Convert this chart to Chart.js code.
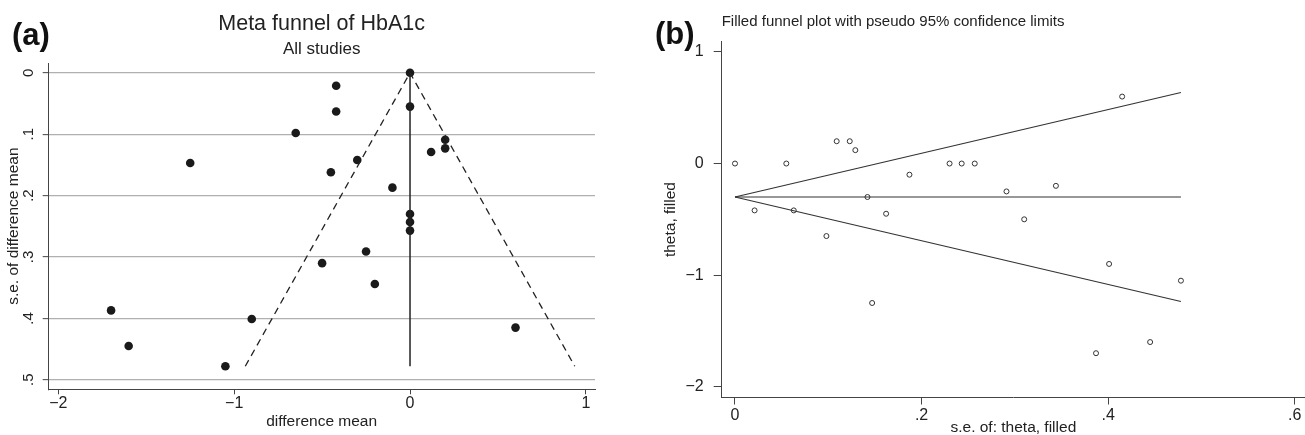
<!DOCTYPE html>
<html>
<head>
<meta charset="utf-8">
<title>Funnel plots - HbA1c</title>
<script src="https://cdn.jsdelivr.net/npm/chart.js@4.4.1/dist/chart.umd.min.js"></script>
<style>
  html, body { margin: 0; padding: 0; background: #fff; }
  #wrap { position: relative; width: 1305px; height: 435px; overflow: hidden; }
  .panel { position: absolute; top: 0; height: 435px; }
  #panelA { left: 0; width: 650px; }
  #panelB { left: 650px; width: 655px; }
</style>
</head>
<body>
<div id="wrap">
  <div class="panel" id="panelA"><canvas id="chartA"></canvas></div>
  <div class="panel" id="panelB"><canvas id="chartB"></canvas></div>
</div>
<script>
// one entry per study, same order in both panels
const diffMean = [0, 0, -0.42, -0.42, -0.65, 0.20, 0.20, 0.12, -1.25, -0.30, -0.45, -0.10,
                  0, 0, 0, -0.25, -0.50, -0.20, -1.70, -0.90, -1.60, -1.05, 0.60];
const seDiff   = [0, 0.055, 0.021, 0.063, 0.098, 0.109, 0.123, 0.129, 0.147, 0.142, 0.162, 0.187,
                  0.230, 0.243, 0.257, 0.291, 0.310, 0.344, 0.387, 0.401, 0.445, 0.478, 0.415];

const pooledA = 0;      // centre of the funnel in (a)
const pooledB = -0.30;  // filled (trim-and-fill) estimate in (b)
const zCrit = 1.96;     // pseudo 95% limits

const xTicksA = [-2, -1, 0, 1];
const yTicksA = [0, 0.1, 0.2, 0.3, 0.4, 0.5];
const xTicksB = [0, 0.2, 0.4, 0.6];
const yTicksB = [-2, -1, 0, 1];

const FONT = "'Liberation Sans', Arial, Helvetica, sans-serif";
const INK = "#222";
const AXIS = "#444";

Chart.defaults.font.family = FONT;
Chart.defaults.color = INK;
Chart.defaults.animation = false;

const seMax = Math.max(...seDiff);

function fixedTicks(values) {
  return scale => { scale.ticks = values.map(v => ({ value: v })); };
}

// Stata style labels: ".2" and a real minus sign
function stataNum(v) {
  let s = String(Math.round(v * 10) / 10);
  s = s.replace(/^(-?)0\./, "$1.");
  return s.replace("-", "\u2212");
}

const panelLetter = {
  id: "panelLetter",
  afterDraw(chart, args, opts) {
    const ctx = chart.ctx;
    ctx.save();
    ctx.font = "bold " + opts.size + "px " + FONT;
    ctx.fillStyle = "#111";
    ctx.textBaseline = "alphabetic";
    ctx.fillText(opts.text, opts.x, opts.y);
    ctx.restore();
  }
};

// ---- panel (a): meta funnel ----
const studiesA = diffMean.map((d, i) => ({ x: d, y: seDiff[i] }));
const funnelA = [
  { x: pooledA - zCrit * seMax, y: seMax },
  { x: pooledA, y: 0 },
  { x: pooledA + zCrit * seMax, y: seMax }
];
const centreA = [{ x: pooledA, y: 0 }, { x: pooledA, y: seMax }];

new Chart(document.getElementById("chartA"), {
  type: "scatter",
  data: {
    datasets: [
      { data: funnelA, showLine: true, borderColor: "#222", borderWidth: 1.3,
        borderDash: [7, 5], pointRadius: 0, fill: false },
      { data: centreA, showLine: true, borderColor: "#222", borderWidth: 1.5,
        pointRadius: 0, fill: false },
      { data: studiesA, pointRadius: 4.3, pointBackgroundColor: "#1a1a1a",
        pointBorderWidth: 0 }
    ]
  },
  options: {
    responsive: true,
    maintainAspectRatio: false,
    layout: { padding: { left: 0, right: 55, top: 0, bottom: 0 }, autoPadding: false },
    plugins: {
      legend: { display: false },
      tooltip: { enabled: false },
      title: { display: true, text: "Meta funnel of HbA1c", color: INK, fullSize: false,
        font: { size: 21.5, weight: "normal" }, padding: { top: 11.3, bottom: 0 } },
      subtitle: { display: true, text: "All studies", color: INK, fullSize: false,
        font: { size: 17 }, padding: { top: 1.75, bottom: 3.75 } },
      panelLetter: { text: "(a)", x: 12, y: 45, size: 31 }
    },
    scales: {
      x: {
        type: "linear", min: -2.057, max: 1.052,
        afterBuildTicks: fixedTicks(xTicksA),
        afterFit: s => { s.height = 45.7; s.paddingLeft = 0; s.paddingRight = 0; },
        grid: { drawOnChartArea: false, drawTicks: true, tickLength: 5, tickColor: AXIS },
        border: { display: true, color: AXIS, width: 1 },
        ticks: { padding: 0, autoSkip: false, maxRotation: 0, font: { size: 16 },
          color: INK, callback: stataNum },
        title: { display: true, text: "difference mean", color: INK,
          font: { size: 15.5 }, padding: { top: 0, bottom: 4 } }
      },
      y: {
        type: "linear", reverse: true, min: -0.016, max: 0.5155,
        afterBuildTicks: fixedTicks(yTicksA),
        afterFit: s => { s.width = 48.3; s.paddingTop = 0; s.paddingBottom = 0; },
        grid: { color: "#b0b0b0", lineWidth: 1.3, drawTicks: true, tickLength: 5.6,
          tickColor: AXIS, tickWidth: 1 },
        border: { display: true, color: AXIS, width: 1 },
        ticks: { minRotation: 90, maxRotation: 90, crossAlign: "center", padding: 8,
          autoSkip: false, font: { size: 15 }, color: INK, callback: stataNum },
        title: { display: true, text: "s.e. of difference mean", color: INK,
          font: { size: 15.5 }, padding: { top: 4.7, bottom: 0 } }
      }
    }
  },
  plugins: [panelLetter]
});

// ---- panel (b): filled funnel ----
const studiesB = diffMean.map((d, i) => ({ x: seDiff[i], y: d }));
const upperB = [{ x: 0, y: pooledB }, { x: seMax, y: pooledB + zCrit * seMax }];
const lowerB = [{ x: 0, y: pooledB }, { x: seMax, y: pooledB - zCrit * seMax }];
const pooledLineB = [{ x: 0, y: pooledB }, { x: seMax, y: pooledB }];

const lineStyle = { showLine: true, borderColor: "#333", borderWidth: 1.2, pointRadius: 0, fill: false };

new Chart(document.getElementById("chartB"), {
  type: "scatter",
  data: {
    datasets: [
      Object.assign({ data: upperB }, lineStyle),
      Object.assign({ data: lowerB }, lineStyle),
      Object.assign({ data: pooledLineB }, lineStyle),
      { data: studiesB, pointRadius: 2.5, pointBorderWidth: 1,
        pointBorderColor: "#333", pointBackgroundColor: "#fff" }
    ]
  },
  options: {
    responsive: true,
    maintainAspectRatio: false,
    layout: { padding: 0, autoPadding: false },
    plugins: {
      legend: { display: false },
      tooltip: { enabled: false },
      title: { display: true, text: "Filled funnel plot with pseudo 95% confidence limits",
        align: "start", fullSize: false, color: INK,
        font: { size: 15, weight: "normal" }, padding: { top: 12.45, bottom: 11.25 } },
      panelLetter: { text: "(b)", x: 5, y: 44, size: 31 }
    },
    scales: {
      x: {
        type: "linear", min: -0.01425, max: 0.611,
        afterBuildTicks: fixedTicks(xTicksB),
        afterFit: s => { s.height = 37.5; s.paddingLeft = 0; s.paddingRight = 0; },
        grid: { drawOnChartArea: false, drawTicks: true, tickLength: 7, tickColor: AXIS },
        border: { display: true, color: AXIS, width: 1 },
        ticks: { padding: 1.8, autoSkip: false, maxRotation: 0, font: { size: 16 },
          color: INK, callback: stataNum },
        title: { display: true, text: "s.e. of: theta, filled", color: INK,
          font: { size: 15.5, lineHeight: 1 }, padding: { top: 0, bottom: 0 } }
      },
      y: {
        type: "linear", min: -2.097, max: 1.092,
        afterBuildTicks: fixedTicks(yTicksB),
        afterFit: s => { s.width = 71.7; s.paddingTop = 0; s.paddingBottom = 0; },
        grid: { drawOnChartArea: false, drawTicks: true, tickLength: 8, tickColor: AXIS },
        border: { display: true, color: AXIS, width: 1 },
        ticks: { padding: 10, autoSkip: false, font: { size: 16 }, color: INK, callback: stataNum },
        title: { display: true, text: "theta, filled", color: INK,
          font: { size: 15.5 }, padding: { top: 11.7, bottom: 0 } }
      }
    }
  },
  plugins: [panelLetter]
});
</script>
</body>
</html>
